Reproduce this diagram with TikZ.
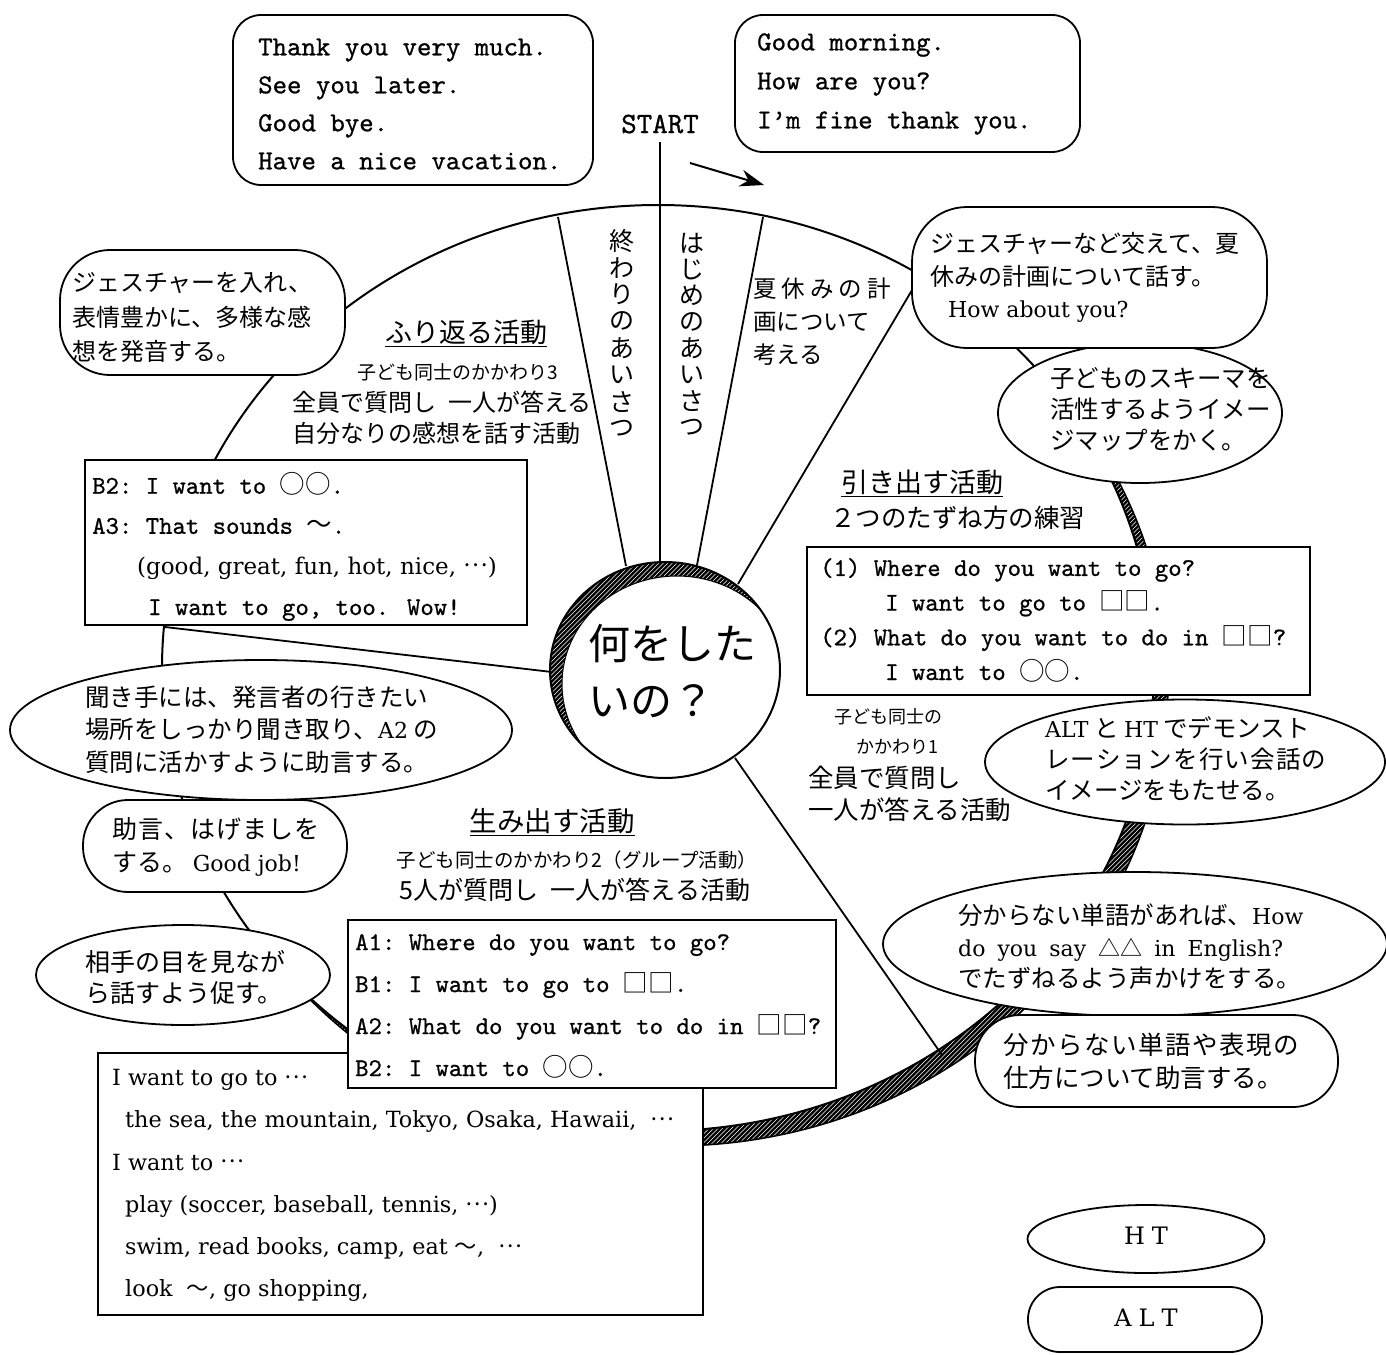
\documentclass[tikz,border=0pt]{standalone}
\usepackage{fontspec}
\newfontfamily\jp{Noto Sans CJK JP}
\newfontfamily\monoF{lmmono10-regular.otf}[FakeBold=0.8]
\newfontfamily\serifR{DejaVu Serif}
\usetikzlibrary{arrows.meta,shapes.geometric}
\newcommand\fJ[2]{\jp\fontsize{#1}{#2}\selectfont}
\newcommand\fT[2]{\monoF\fontsize{#1}{#2}\selectfont}
\newcommand\fR[2]{\serifR\fontsize{#1}{#2}\selectfont}
\newcommand\J[1]{{\jp #1}}
\newcommand\cdd{{\jp\raisebox{0.32em}{…}}}
\begin{document}
\begin{tikzpicture}[x=1pt,y=-1pt,
  ln/.style={line width=1.8pt},
  bx/.style={draw, line width=1.8pt, fill=white, inner sep=0pt},
  rbx/.style={bx, rounded corners=#1},
  ell/.style={draw, ellipse, line width=1.8pt, fill=white, inner sep=0pt},
  tx/.style={anchor=west, inner sep=0pt, align=left},
  ct/.style={inner sep=0pt, align=center}]
\useasboundingbox (0,0) rectangle (1386,1354);

% ---- big ring with crescent shadow
\begin{scope}
\clip (672,683) ellipse [x radius=496, y radius=463];
\fill[black] (150,190) rectangle (1200,1180);
\foreach \a in {-850,-845.5,...,1200} \draw[white, line width=0.55pt] (\a,1180) -- (\a+990,190);
\end{scope}
\draw[line width=1.5pt] (672,683) ellipse [x radius=496, y radius=463];
\fill[white] (658,668) ellipse [x radius=496, y radius=463];
\draw[line width=2pt] (658,668) ellipse [x radius=496, y radius=463];

% ---- spokes
\coordinate (s1a) at (558,217); \coordinate (s1b) at (626,566);
\coordinate (s2a) at (660,142); \coordinate (s2b) at (660,562);
\coordinate (s3a) at (763,217); \coordinate (s3b) at (697,565);
\coordinate (s4a) at (915,285); \coordinate (s4b) at (738,584);
\coordinate (s5a) at (735,758); \coordinate (s5b) at (942,1055);
\coordinate (s6a) at (165,627); \coordinate (s6b) at (552,672);
\draw[ln] (s1a) -- (s1b);
\draw[ln] (s2a) -- (s2b);
\draw[ln] (s3a) -- (s3b);
\draw[ln] (s4a) -- (s4b);
\draw[ln] (s5a) -- (s5b);
\draw[ln] (s6a) -- (s6b);
\coordinate (arrS) at (690,163); \coordinate (arrE) at (764,185);
\draw[line width=2pt, -{Stealth[length=24pt,width=17pt]}] (arrS) -- (arrE);

% ---- inner circle with crescent
\begin{scope}
\clip (665,670) ellipse [x radius=115, y radius=108];
\fill[black] (545,555) rectangle (785,785);
\foreach \a in {320,324.5,...,790} \draw[white, line width=0.55pt] (\a,785) -- (\a+230,555);
\fill[white] (677,684) ellipse [x radius=115, y radius=108];
\draw[line width=1pt] (677,684) ellipse [x radius=115, y radius=108];
\end{scope}
\draw[line width=2pt] (665,670) ellipse [x radius=115, y radius=108];
\node[tx, font=\fJ{42}{57}] (center) at (588,671) {何をした\\いの？};

% ---- top boxes
\node[rbx=28pt, minimum width=360pt, minimum height=170pt] (tlbox) at (413,100) {};
\node[tx, font=\fT{27.5}{38}] (tltext) at (258,104) {Thank you very much.\\See you later.\\Good bye.\\Have a nice vacation.};
\node[rbx=28pt, minimum width=345pt, minimum height=137pt] (trbox) at (907.5,83.5) {};
\node[tx, font=\fT{27.5}{39}] (trtext) at (757,84) {Good morning.\\How are you?\\I’m fine thank you.};
\node[ct, font=\fT{29.5}{30}] (start) at (660,124) {START};

% ---- sector texts
\foreach \c [count=\i] in {終,わ,り,の,あ,い,さ,つ}
  \node[ct, font=\fJ{25}{25}] (va\i) at (622, 241+26.8*\i-26.8) {\c};
\foreach \c [count=\i] in {は,じ,め,の,あ,い,さ,つ}
  \node[ct, font=\fJ{25}{25}] (vb\i) at (692, 243+26.3*\i-26.3) {\c};
\node[tx, font=\fJ{23.5}{33}] (natsu) at (753,322) {夏\hspace{5pt}休\hspace{5pt}み\hspace{5pt}の\hspace{5pt}計\\画について\\考える};

% ---- upper left
\node[rbx=50pt, minimum width=285pt, minimum height=125pt] (bubA) at (202.5,312.5) {};
\node[tx, font=\fJ{24}{34.5}] (bubAt) at (72,317.5) {ジェスチャーを入れ、\\表情豊かに、多様な感\\想を発音する。};
\node[ct, font=\fJ{27}{30}] (h1) at (466,333) {\underline{ふり返る活動}};
\node[ct, font=\fJ{19}{20}] (h1a) at (458,372) {子ども同士のかかわり3};
\node[tx, font=\fJ{24}{26}] (h1b) at (292,402) {全員で質問し\hspace{12pt}一人が答える};
\node[tx, font=\fJ{24}{26}] (h1c) at (292,433) {自分なりの感想を話す活動};

% ---- upper right
\node[ell, minimum width=284pt, minimum height=140pt] (ellC) at (1140,413) {};
\node[rbx=55pt, minimum width=355pt, minimum height=141pt] (bubB) at (1089.5,277.5) {};
\node[tx, font=\fJ{24}{32.5}] (bubBt) at (930,277.5) {ジェスチャーなど交えて、夏\\休みの計画について話す。\\\hspace*{18pt}{\fR{22}{32.5}How about you?}};
\node[tx, font=\fJ{24.5}{31}] (ellCt) at (1050,409) {子どものスキーマを\\活性するようイメー\\ジマップをかく。};
\node[ct, font=\fJ{27}{30}] (h2) at (922,483) {\underline{引き出す活動}};
\node[tx, font=\fJ{25.5}{27}] (h2a) at (830,518) {２つのたずね方の練習};

\node[bx, minimum width=503pt, minimum height=148pt] (box1) at (1058.5,621) {};
\node[tx, font=\fT{25.5}{34.7}] (box1t) at (820,620) {(1) Where do you want to go?\\\hspace*{65pt}I want to go to \J{□□}.\\(2) What do you want to do in \J{□□}?\\\hspace*{65pt}I want to \J{○○}.};

\node[ct, font=\fJ{18}{20}] (k1a) at (888,717) {子ども同士の};
\node[ct, font=\fJ{18}{20}] (k1b) at (897,747) {かかわり1};
\node[tx, font=\fJ{25.5}{32}] (k1c) at (808,794) {全員で質問し\\一人が答える活動};

% ---- right ellipses
\node[ell, minimum width=400pt, minimum height=125pt] (ellG) at (1185,762) {};
\node[tx, font=\fJ{24.5}{31}] (ellGt) at (1045,759) {{\fR{22}{31}ALT} と {\fR{22}{31}HT} でデモンスト\\{\addfontfeatures{LetterSpace=5}レーションを行い会話の}\\イメージをもたせる。};
\node[ell, minimum width=504pt, minimum height=144pt] (ellH) at (1135,944) {};
\node[tx, font=\fJ{24.5}{31.5}] (ellHt) at (958,947) {分からない単語があれば、{\fR{22}{31.5}How}\\{\fR{22}{31.5}\makebox[325pt][s]{do you say {\jp △△} in English?}}\\でたずねるよう声かけをする。};
\node[rbx=45pt, minimum width=363pt, minimum height=92pt] (bubI) at (1156.5,1061) {};
\node[tx, font=\fJ{25.5}{33}] (bubIt) at (1003,1061.5) {{\addfontfeatures{LetterSpace=6}分からない単語や表現の}\\仕方について助言する。};

\node[ell, minimum width=237pt, minimum height=68pt] (ht) at (1146,1239) {};
\node[ct, font=\fR{24}{28}] (htt) at (1146,1236) {H\hspace{7pt}T};
\node[rbx=32pt, minimum width=234pt, minimum height=65pt] (alt) at (1145,1319.5) {};
\node[ct, font=\fR{24}{28}] (altt) at (1146,1318) {A\hspace{7pt}L\hspace{7pt}T};

% ---- left side
\node[bx, minimum width=442pt, minimum height=165pt] (boxB2) at (306,542.5) {};
\node[tx, font=\fT{25.5}{28}] (b2a) at (92,484) {B2:\ I want to \J{○○}.};
\node[tx, font=\fT{25.5}{28}] (b2b) at (92,526) {A3:\ That sounds \J{～}.};
\node[tx, font=\fR{23}{28}] (b2c) at (137,568) {(good, great, fun, hot, nice, \cdd)};
\node[tx, font=\fT{25.5}{28}] (b2d) at (148,610) {I want to go, too.  Wow!};

\node[ell, minimum width=502pt, minimum height=140pt] (ellM) at (261,730) {};
\node[tx, font=\fJ{24.5}{32.5}] (ellMt) at (85,729.5) {聞き手には、発言者の行きたい\\場所をしっかり聞き取り、{\fR{22}{32.5}A2} の\\質問に活かすように助言する。};
\node[rbx=45pt, minimum width=264pt, minimum height=92pt] (bubN) at (215,846) {};
\node[tx, font=\fJ{25}{33}] (bubNt) at (112,846.5) {{\addfontfeatures{LetterSpace=4}助言、はげましを}\\する。 {\fR{22}{33}Good job!}};
\node[ell, minimum width=294pt, minimum height=100pt] (ellO) at (183,975) {};
\node[tx, font=\fJ{25}{31}] (ellOt) at (85,977.5) {相手の目を見なが\\ら話すよう促す。};

% ---- bottom
\node[ct, font=\fJ{27.5}{30}] (h3) at (552,822) {\underline{生み出す活動}};
\node[ct, font=\fJ{19.5}{21}] (h3a) at (577,860) {子ども同士のかかわり2（グループ活動）};
\node[ct, font=\fJ{25}{27}] (h3b) at (575,890) {5人が質問し\hspace{12pt}一人が答える活動};

\node[bx, minimum width=605pt, minimum height=262pt] (boxBot) at (400.5,1184) {};
\node[tx, font=\fR{22.3}{42.2}] (boxBott) at (112,1185.5) {I want to go to \cdd\\\hspace*{13pt}the sea, the mountain, Tokyo, Osaka, Hawaii, \ \cdd\\I want to \cdd\\\hspace*{13pt}play (soccer, baseball, tennis, \cdd)\\\hspace*{13pt}swim, read books, camp, eat \J{～}, \ \cdd\\\hspace*{13pt}look \ \J{～}, go shopping,};
\node[bx, minimum width=488pt, minimum height=168pt] (boxA1) at (592,1004) {};
\node[tx, font=\fT{25.5}{42}] (boxA1t) at (355,1006) {A1:\ Where do you want to go?\\B1:\ I want to go to \J{□□}.\\A2:\ What do you want to do in \J{□□}?\\B2:\ I want to \J{○○}.};
\end{tikzpicture}
\end{document}
